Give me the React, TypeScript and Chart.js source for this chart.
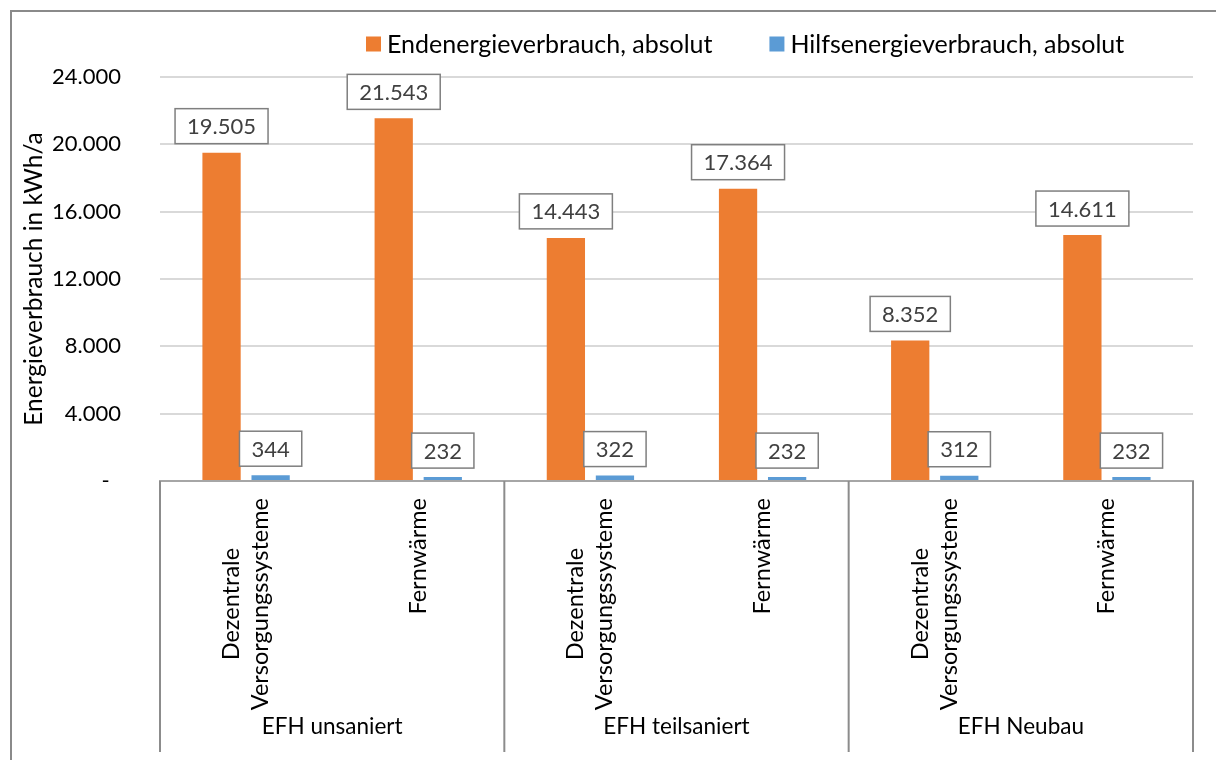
import React, { useEffect, useRef } from "react";
import { Chart, registerables } from "chart.js";

Chart.register(...registerables);

const groups = ["EFH unsaniert", "EFH teilsaniert", "EFH Neubau"];
const subLabels = [
  ["Dezentrale", "Versorgungssysteme"],
  ["Fernwärme"],
  ["Dezentrale", "Versorgungssysteme"],
  ["Fernwärme"],
  ["Dezentrale", "Versorgungssysteme"],
  ["Fernwärme"],
];
const seriesNames = ["Endenergieverbrauch, absolut", "Hilfsenergieverbrauch, absolut"];
const endenergie = [19505, 21543, 14443, 17364, 8352, 14611];
const hilfsenergie = [344, 232, 322, 232, 312, 232];
const yMin = 0;
const yMax = 24000;
const yStep = 4000;
const yTitle = "Energieverbrauch in kWh/a";

const FONT = "Lato, 'Open Sans', 'DejaVu Sans', sans-serif";
const ORANGE = "#ED7D31";
const BLUE = "#5B9BD5";

function fmt(v: number): string {
  if (v === 0) return "-  ";
  return String(v).replace(/\B(?=(\d{3})+(?!\d))/g, ".");
}

const customPlugin = {
  id: "customDraw",
  afterDatasetsDraw(chart: any) {
    const ctx = chart.ctx;
    ctx.save();
    ctx.font = `22px ${FONT}`;
    ctx.textAlign = "center";
    ctx.textBaseline = "middle";
    chart.data.datasets.forEach((ds: any, d: number) => {
      const meta = chart.getDatasetMeta(d);
      meta.data.forEach((bar: any, i: number) => {
        const text = fmt(ds.data[i]);
        const tw = ctx.measureText(text).width;
        const w = tw + 24;
        const h = 35;
        const gap = 9;
        const bx = bar.x - w / 2;
        const by = bar.y - gap - h;
        ctx.fillStyle = "#ffffff";
        ctx.fillRect(bx, by, w, h);
        ctx.strokeStyle = "#7f7f7f";
        ctx.lineWidth = 1.5;
        ctx.strokeRect(bx, by, w, h);
        ctx.fillStyle = "#404040";
        ctx.fillText(text, bar.x, by + h / 2 + 1);
      });
    });
    ctx.restore();
  },
  afterDraw(chart: any) {
    const ctx = chart.ctx;
    const ca = chart.chartArea;
    const xs = chart.scales.x;
    ctx.save();

    // category axis separators
    const n = subLabels.length;
    const per = n / groups.length;
    const bounds: number[] = [ca.left];
    for (let g = 1; g < groups.length; g++) {
      const i = g * per;
      bounds.push((xs.getPixelForValue(i - 1) + xs.getPixelForValue(i)) / 2);
    }
    bounds.push(ca.right);
    const axisBottom = chart.height - 8;
    ctx.strokeStyle = "#8c8c8c";
    ctx.lineWidth = 2;
    bounds.forEach((x) => {
      ctx.beginPath();
      ctx.moveTo(x, ca.bottom);
      ctx.lineTo(x, axisBottom);
      ctx.stroke();
    });

    // sub category labels (rotated, lines centered)
    ctx.font = `23.5px ${FONT}`;
    ctx.fillStyle = "#000000";
    subLabels.forEach((lines, i) => {
      const px = xs.getPixelForValue(i);
      const maxW = Math.max(...lines.map((l) => ctx.measureText(l).width));
      const lh = 29;
      const topY = ca.bottom + 17;
      ctx.save();
      ctx.translate(px, topY + maxW / 2);
      ctx.rotate(-Math.PI / 2);
      ctx.textAlign = "center";
      ctx.textBaseline = "middle";
      lines.forEach((l, k) => ctx.fillText(l, 0, (k - (lines.length - 1) / 2) * lh));
      ctx.restore();
    });

    // group labels
    ctx.font = `22.5px ${FONT}`;
    ctx.textAlign = "center";
    ctx.textBaseline = "middle";
    groups.forEach((g, k) => {
      ctx.fillText(g, (bounds[k] + bounds[k + 1]) / 2, 727);
    });

    // legend
    ctx.font = `25px ${FONT}`;
    ctx.textAlign = "left";
    ctx.textBaseline = "middle";
    let x = ca.left + 206;
    const ly = 44;
    chart.data.datasets.forEach((ds: any) => {
      ctx.fillStyle = ds.backgroundColor;
      ctx.fillRect(x, ly - 7.5, 15, 15);
      ctx.fillStyle = "#000000";
      ctx.fillText(ds.label, x + 21, ly + 1);
      x += 21 + ctx.measureText(ds.label).width + 57;
    });

    ctx.restore();
  },
};

export default function App() {
  const ref = useRef<HTMLCanvasElement | null>(null);
  useEffect(() => {
    if (!ref.current) return;
    const chart = new Chart(ref.current, {
      type: "bar",
      data: {
        labels: subLabels.map((l) => l.join(" ")),
        datasets: [
          {
            label: seriesNames[0],
            data: endenergie,
            backgroundColor: ORANGE,
            categoryPercentage: 0.57,
            barPercentage: 0.78,
          },
          {
            label: seriesNames[1],
            data: hilfsenergie,
            backgroundColor: BLUE,
            categoryPercentage: 0.57,
            barPercentage: 0.78,
          },
        ],
      },
      options: {
        responsive: false,
        animation: false,
        layout: { padding: { left: 0, top: 77, right: 23, bottom: 279 } },
        plugins: {
          legend: { display: false },
          tooltip: { enabled: false },
          title: { display: false },
        },
        scales: {
          x: {
            ticks: { display: false },
            grid: { display: false, drawTicks: false },
            border: { display: true, color: "#a6a6a6", width: 2 },
            afterFit: (s: any) => {
              s.height = 0;
            },
          },
          y: {
            min: yMin,
            max: yMax,
            ticks: {
              stepSize: yStep,
              padding: 39,
              color: "#000000",
              font: { family: FONT, size: 22 },
              callback: (v: any) => fmt(Number(v)),
            },
            grid: { color: "#d9d9d9", lineWidth: 2, drawTicks: false },
            border: { display: false },
            title: {
              display: true,
              text: yTitle,
              color: "#000000",
              font: { family: FONT, size: 24.5 },
              padding: { top: 19, bottom: 0 },
            },
            afterFit: (s: any) => {
              s.width = 160;
            },
          },
        },
      },
      plugins: [customPlugin],
    } as any);
    return () => chart.destroy();
  }, []);

  return (
    <div style={{ position: "fixed", left: 0, top: 0, width: 1216, height: 760, background: "#fff", overflow: "hidden" }}>
      <div
        style={{
          position: "absolute",
          left: 10,
          top: 10,
          width: 1300,
          height: 800,
          borderLeft: "2px solid #8a8a8a",
          borderTop: "2px solid #8a8a8a",
        }}
      />
      <canvas ref={ref} width={1216} height={760} style={{ position: "absolute", left: 0, top: 0 }} />
    </div>
  );
}
